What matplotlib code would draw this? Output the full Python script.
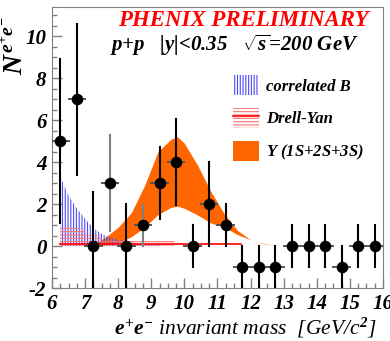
import matplotlib
matplotlib.use("Agg")
import matplotlib.pyplot as plt
from matplotlib.patches import Patch
from matplotlib.lines import Line2D
from matplotlib.ticker import MultipleLocator

plt.rcParams['font.family'] = 'Liberation Serif'
plt.rcParams['font.weight'] = 'bold'
plt.rcParams['font.style'] = 'italic'
plt.rcParams['mathtext.fontset'] = 'custom'
plt.rcParams['mathtext.it'] = 'Liberation Serif:bold:italic'
plt.rcParams['mathtext.bf'] = 'Liberation Serif:bold:italic'
plt.rcParams['mathtext.rm'] = 'Liberation Serif'
plt.rcParams['axes.unicode_minus'] = False
plt.rcParams['hatch.linewidth'] = 0.8

# data points
mass = [6.25, 6.75, 7.25, 7.75, 8.25, 8.75, 9.25, 9.75, 10.25, 10.75,
        11.25, 11.75, 12.25, 12.75, 13.25, 13.75, 14.25, 14.75, 15.25, 15.75]
counts = [5, 7, 0, 3, 0, 1, 3, 4, 0, 2, 1, -1, -1, -1, 0, 0, 0, -1, 0, 0]
err = [3.9, 3.6, 2.6, 2.3, 2.0, 1.0, 1.7, 2.05, 1.0, 2.0,
       1.0, 1.0, 1.0, 1.0, 1.0, 1.0, 1.0, 1.0, 1.0, 1.0]
half_bin = 0.25
gray_bins = [7.75, 8.75]

# Upsilon band
ups_x = [7.2, 7.6, 8.0, 8.4, 8.8, 9.2, 9.6, 9.8, 10.0, 10.4, 10.8, 11.2, 11.6, 12.0, 12.4, 12.8]
ups_hi = [0.05, 0.4, 0.9, 1.6, 2.9, 4.5, 5.1, 5.2, 4.9, 3.85, 2.6, 1.55, 0.75, 0.3, 0.1, 0.0]
ups_lo = [0.0, 0.05, 0.15, 0.45, 0.9, 1.5, 1.85, 1.9, 1.8, 1.48, 1.1, 0.9, 0.55, 0.3, 0.12, 0.0]

# correlated B band
cb_x = [6.25, 6.5, 6.75, 7.0, 7.25, 7.5, 7.75, 8.0, 8.5, 9.0, 9.3]
cb_hi = [3.3, 2.4, 1.8, 1.3, 0.85, 0.58, 0.4, 0.3, 0.15, 0.08, 0.05]

# Drell-Yan band and central curve
dy_x = [6.25, 6.5, 7.0, 7.01, 7.5, 7.51, 8.0, 9.0, 9.7]
dy_hi = [0.95, 0.9, 0.8, 0.55, 0.5, 0.3, 0.3, 0.28, 0.28]
dy_line_x = [6.25, 11.7]
dy_line_y = [0.1, 0.1]

xticks = list(range(6, 17))
yticks = [-2, 0, 2, 4, 6, 8, 10]

fig = plt.figure(figsize=(3.9, 3.41), dpi=100)
ax = fig.add_axes([0.1333, 0.1554, 0.8487, 0.8241])

ax.fill_between(ups_x, ups_lo, ups_hi, color='#ff6600', linewidth=0, zorder=1)
ax.fill_between(cb_x, 0, cb_hi, facecolor='none', edgecolor='#4a4aff',
                hatch='||||||', linewidth=0, zorder=2)
ax.fill_between(dy_x, 0, dy_hi, facecolor='none', edgecolor='#ff7070',
                hatch='-----', linewidth=0, zorder=2)
ax.plot(dy_line_x, dy_line_y, color='red', lw=1.2, zorder=3)

for x, y, e in zip(mass, counts, err):
    c = '#808080' if x in gray_bins else 'black'
    ax.plot([x - half_bin, x + half_bin], [y, y], color='#555555', lw=1.4, zorder=4)
    ax.plot([x, x], [y - e, y + e], color=c, lw=1.5, zorder=4)
ax.plot(mass, counts, 'o', color='black', ms=7.3, zorder=5)

ax.set_xlim(6, 16)
ax.set_ylim(-2, 11.4)
ax.set_xticks(xticks)
ax.set_yticks(yticks)
ax.xaxis.set_minor_locator(MultipleLocator(0.25))
ax.yaxis.set_minor_locator(MultipleLocator(0.5))
ax.tick_params(which='both', direction='in', colors='#808080', labelcolor='black',
               labelsize=15, top=False, right=False)
ax.tick_params(which='major', length=7, width=1)
ax.tick_params(which='minor', length=3.5, width=1)
ax.tick_params(axis='y', pad=4)
ax.tick_params(axis='x', pad=4)
for s in ax.spines.values():
    s.set_color('#808080')

ax.set_ylabel(r'$N^{e^{+}e^{-}}$', fontsize=20, loc='top')
ax.yaxis.set_label_coords(-0.07, 0.965)
ax.set_xlabel(r'$e^{+}e^{-}$ invariant mass  [GeV/c$^{2}$]', fontsize=15.5, loc='right')
ax.xaxis.set_label_coords(0.98, -0.1)

fig.text(118 / 390, 1 - 21 / 341, 'PHENIX PRELIMINARY', color='red', fontsize=16.5,
         va='center', ha='left')
fig.text(110 / 390, 1 - 45 / 341, r'p+p   |y|<0.35   $\sqrt{s}$=200 GeV', fontsize=15,
         va='center', ha='left')

handles = [
    Patch(facecolor='none', edgecolor='#4a4aff', hatch='||||||', linewidth=0),
    (Patch(facecolor='none', edgecolor='#ff7070', hatch='-----', linewidth=0),
     Line2D([], [], color='red', lw=1.2)),
    Patch(facecolor='#ff6600', linewidth=0),
]
labels = ['correlated B', 'Drell-Yan', r'$\mathrm{Υ}$ (1S+2S+3S)']
ax.legend(handles, labels, loc='upper left', bbox_to_anchor=(0.547, 0.758),
          frameon=False, fontsize=12, handlelength=1.56, handleheight=1.5,
          labelspacing=0.75, handletextpad=0.4, borderpad=0, borderaxespad=0)

fig.savefig('out.png', dpi=100)
